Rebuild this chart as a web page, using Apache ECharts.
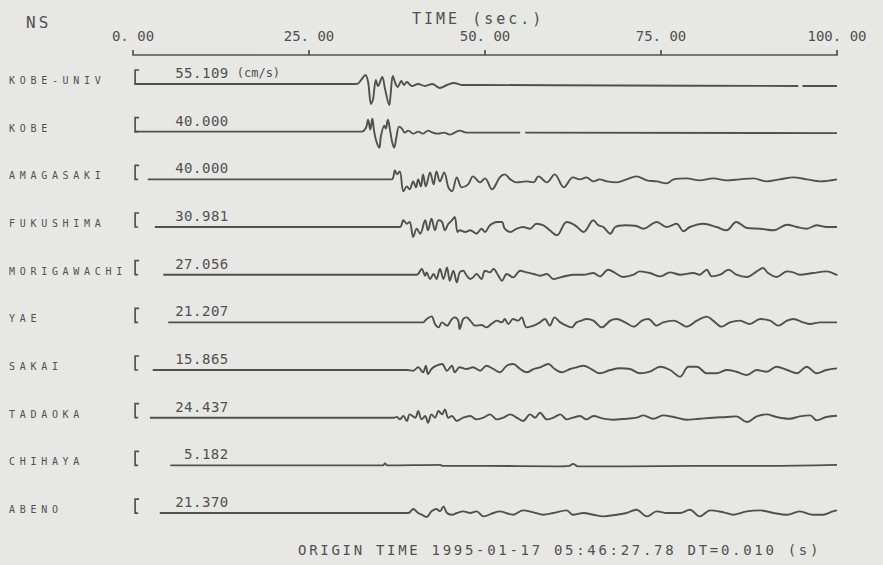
<!DOCTYPE html>
<html><head><meta charset="utf-8">
<script src="https://cdn.jsdelivr.net/npm/echarts@6/dist/echarts.min.js"></script>
<style>html,body{margin:0;padding:0;background:#e7e7e4}#chart{width:883px;height:565px}</style>
</head><body><div id="chart"></div>
<script>
// ---- data (time in s, deflection in trace units, up = +) ----
const STATIONS = ['KOBE-UNIV','KOBE','AMAGASAKI','FUKUSHIMA','MORIGAWACHI','YAE','SAKAI','TADAOKA','CHIHAYA','ABENO'];
const AMPLITUDES = ['55.109','40.000','40.000','30.981','27.056','21.207','15.865','24.437','5.182','21.370'];
const UNIT_LABEL = '(cm/s)';
const TICK_LABELS = ['0. 00','25. 00','50. 00','75. 00','100. 00'];
const COMPONENT = 'NS';
const AXIS_TITLE = 'TIME (sec.)';
const FOOTER = 'ORIGIN TIME 1995-01-17 05:46:27.78 DT=0.010 (s)';

const KOBE_UNIV = [[0.2,0],[31.8,0],[32.5,5],[33.0,9],[33.4,2],[33.8,-20],[34.1,-15],[34.5,4],[34.8,-2],[35.4,7],[35.8,-5],[36.4,-21],[36.6,-10],[36.9,8],[37.3,0],[37.6,-3],[38.1,3],[38.5,-1],[38.9,2],[39.6,-2],[40.5,0],[41.5,-2],[42.5,0],[43.6,-4],[44.6,-1],[45.6,1],[46.7,-1],[49.3,-1],[70.0,-1.5],[94.5,-2],[94.8,null],[95.1,-2],[100,-2]];
const KOBE = [[0.2,0],[32.5,0],[33.1,4],[33.4,12],[33.7,2],[34.0,13],[34.2,3],[34.5,-8],[35.0,-16],[35.2,-5],[35.7,6],[35.9,3],[36.2,12],[36.5,2],[36.8,-10],[37.1,-16],[37.4,-6],[37.8,5],[38.2,3],[38.6,-1],[39.1,1],[39.8,-2],[40.5,0],[41.2,-2],[41.9,1],[42.6,-1],[43.3,-2],[44.2,-1],[45.0,-3],[46.4,1],[47.4,-1],[49.3,-1],[55.0,-1],[55.3,null],[55.7,-1],[100,-1.5]];
const AMAGASAKI = [[2.1,0],[36.7,0],[37.2,9],[37.5,5],[37.9,8],[38.4,-12],[38.9,-7],[39.3,-10],[39.8,-2],[40.2,-8],[40.5,0],[40.9,-7],[41.2,5],[41.6,-7],[42.2,7],[42.7,-5],[43.1,8],[43.6,-2],[44.2,7],[44.8,-8],[45.3,-12],[46.0,2],[46.7,-8],[47.6,-5],[48.3,3],[49.3,-3],[50.0,1],[51.0,-10],[52.1,2],[52.8,5],[53.6,0],[54.5,-3],[55.9,-2],[56.9,-3],[57.6,3],[58.8,-3],[59.9,5],[61.2,-8],[62.5,2],[63.5,0],[64.4,2],[65.4,-2],[66.3,0],[67.3,-2],[68.7,-3],[70.1,0],[71.5,3],[73.0,-1],[74.4,-2],[75.8,-4],[76.8,0],[78.6,1],[80.5,-1],[82.4,1],[84.3,-1],[86.2,0],[88.1,1],[90.0,-2],[91.9,0],[93.8,2],[95.7,0],[97.6,-2],[100,0]];
const FUKUSHIMA = [[3.1,0],[37.9,0],[38.4,6.7],[38.9,3.3],[39.3,5],[39.8,-10],[40.3,-1.7],[40.8,-6.7],[41.5,6.7],[41.9,-3.3],[42.4,8.3],[42.9,-3.3],[43.4,6.7],[43.9,5],[44.3,-3.3],[44.8,3.3],[45.3,6.7],[45.7,10],[46.1,-5],[46.4,-3.3],[47.2,-5],[47.9,-3.3],[48.8,-6.7],[49.5,-1.7],[50.0,-5],[50.7,1.7],[51.7,5],[52.4,5],[52.8,-1.7],[53.6,-5],[54.5,-1.7],[55.4,0],[56.4,-1.7],[57.3,3.3],[58.3,1.7],[59.2,-3.3],[60.2,-8.3],[61.6,5],[62.8,1.7],[64.0,-5],[65.4,6.7],[66.1,1.7],[66.8,0],[67.8,-6.7],[68.5,0],[69.9,1.7],[71.5,1],[72.5,-1.7],[74.4,5],[75.8,0],[77.2,3.3],[78.2,-4.3],[79.1,0],[81.0,3.3],[82.9,0],[84.3,-3.3],[85.7,5],[87.2,-1],[89.1,-1.7],[91.0,-3.3],[92.9,2.3],[94.3,0],[95.7,-1.7],[97.1,1.7],[98.5,0],[100,0]];
const MORIGAWACHI = [[4.3,0],[40.3,0],[41.0,5.7],[41.5,-1],[41.7,2.3],[42.2,-4.3],[42.7,0.7],[43.1,-4.3],[43.6,5.7],[44.1,-4.3],[44.6,7.3],[45.0,-6],[45.5,4],[46.0,-7.7],[46.4,2.3],[46.9,4],[47.4,-1],[47.9,-4.3],[48.3,-2.7],[48.8,0.7],[49.5,-4.3],[50.0,4],[50.7,2.3],[51.2,5.7],[51.9,-1],[52.4,-6],[53.1,0.7],[54.0,-2.7],[55.0,4],[55.9,2.3],[56.9,0.7],[57.8,-1],[58.8,0.7],[59.7,-4.3],[60.7,-2.7],[62.5,0],[64.0,0],[65.4,1.7],[66.3,-1.7],[67.5,5],[68.5,1.7],[69.6,-2.3],[71.1,0],[72.0,3.3],[73.4,1.7],[74.9,-1.7],[76.3,2.3],[77.7,0],[79.6,1.7],[80.5,0],[81.5,5],[82.2,-1.7],[83.4,0],[84.6,5],[85.7,0],[87.2,-2.3],[88.6,3.3],[89.5,6.7],[90.2,1.7],[91.4,-2.3],[92.9,3.3],[93.8,2.3],[94.7,0],[96.6,1.7],[98.5,3.3],[99.9,0],[100,-1]];
const YAE = [[5.0,0],[41.2,0],[41.7,3.3],[42.4,6],[42.9,-1.7],[43.4,-5],[43.9,0],[44.6,-3.3],[45.3,3.3],[45.7,5],[46.2,1.7],[46.4,-6.7],[46.9,3.3],[47.4,5],[47.9,1.7],[48.6,-3.3],[49.5,-2.7],[50.2,-5],[50.9,-1.7],[51.7,1.7],[52.4,0],[52.8,3.3],[53.3,-1.7],[54.0,3.3],[54.7,1.7],[55.2,5],[55.9,-5],[56.9,-3.3],[57.8,0],[58.5,3.3],[59.2,-3.3],[59.9,5],[60.7,0],[61.6,-3.3],[62.3,-5],[63.0,0],[63.7,1.7],[64.4,3.3],[65.4,1.7],[66.6,-5],[67.8,1.7],[68.7,3.3],[69.9,0],[71.1,-4.3],[72.3,1.7],[73.2,3.3],[74.4,-3.3],[75.3,0],[76.8,1.7],[77.9,-1.7],[78.6,-4.3],[80.1,1.7],[81.5,5.7],[82.4,1.7],[83.6,-4.3],[84.8,0],[86.2,1.7],[87.6,-1.7],[89.1,3.3],[90.5,1.7],[91.7,-3.3],[92.9,1.7],[93.8,3.3],[95.2,0],[96.2,-1.7],[97.6,0],[100,0]];
const SAKAI = [[2.8,0],[38.9,0],[39.8,-0.7],[40.5,2.7],[41.2,-2.3],[41.6,4.3],[41.9,-4],[42.4,1],[43.1,4.3],[43.9,6],[44.6,-0.7],[45.3,4.3],[45.7,-2.3],[46.4,2.7],[47.4,1],[48.3,2.7],[49.3,-0.7],[50.2,4.3],[51.2,1],[52.1,-2.3],[53.1,4.3],[54.0,6],[55.0,1],[55.9,-2.3],[56.9,1],[57.8,2.7],[59.0,6],[59.9,1],[60.9,-2.3],[62.1,1],[63.0,2.7],[64.0,4.3],[65.1,1],[66.3,-3.3],[67.8,0],[69.2,1.7],[70.6,1],[72.0,-3.3],[73.4,-1.7],[74.9,3.3],[76.3,0],[77.7,-6.7],[78.9,3.3],[80.1,3.3],[81.5,-3.3],[82.9,-3.3],[84.3,0],[85.7,-1.7],[87.2,-5],[88.6,0],[90.0,-1.7],[91.4,3.3],[92.9,0],[94.3,-3.3],[95.7,3.3],[97.1,-3.3],[98.5,0],[100,1.7]];
const TADAOKA = [[2.4,0],[37.0,0],[37.5,0.7],[37.9,-1.7],[38.4,1.7],[38.9,-3.3],[39.3,3.3],[40.1,0],[40.5,6.7],[41.0,-1.7],[41.5,1.7],[41.9,-5],[42.4,3.3],[42.9,0],[43.4,6.7],[43.9,3.3],[44.3,8.3],[44.8,0],[45.3,1.7],[46.0,-3.3],[46.9,0],[47.9,1.7],[48.8,-1.7],[49.8,0],[50.7,3.3],[51.7,-1.7],[52.6,0],[53.6,3.3],[54.5,0],[55.4,-3.3],[56.4,3.3],[57.1,0],[57.8,5],[58.8,-1.7],[59.7,0],[60.7,3.3],[61.6,-1.7],[62.5,0],[63.5,1.7],[64.4,-1.7],[65.4,1.7],[66.8,-1],[68.2,-2],[70.1,-1],[71.5,0],[72.5,2.3],[73.9,-1],[75.3,2.3],[76.8,0.7],[78.6,-2],[80.5,-1],[82.4,0],[84.3,0.7],[85.7,1.3],[87.2,-4.3],[88.6,1.3],[90.0,3.3],[91.4,0.7],[93.3,-1],[94.7,1.3],[96.2,2.3],[97.1,-2.7],[98.5,0.7],[100,2]];
const CHIHAYA = [[5.3,0],[35.5,0],[35.8,2],[36.1,0],[43.6,0.5],[44.0,-0.5],[50,-0.5],[60,-1],[62.0,-0.5],[62.5,1.5],[63.2,-1],[70,-1],[80,-0.5],[90,-0.5],[100,0.5]];
const ABENO = [[3.8,0],[39.1,0],[39.8,4],[40.5,0],[41.0,-1.7],[41.7,-4],[42.4,1.7],[43.1,4],[43.6,1.7],[44.1,6.7],[44.6,0],[45.3,-1.7],[46.0,0],[46.9,1.7],[47.9,0],[48.8,1.7],[49.8,-3.3],[51.2,0],[52.1,1.7],[54.0,-1.7],[55.4,2.7],[56.9,0.7],[58.3,-1.7],[59.7,0],[61.6,2.7],[62.5,-1.7],[64.0,0],[65.4,-1.7],[66.8,-3.3],[68.7,-1.7],[70.1,0],[71.5,3.3],[73.0,-3.3],[74.4,1.7],[75.8,0],[77.7,0],[79.1,3.3],[80.5,-3.3],[82.0,2.7],[83.9,0.7],[85.3,-1.7],[87.2,1.7],[89.1,2.7],[91.0,0],[92.9,-1.7],[94.7,1.7],[96.6,-1.7],[98.0,-1.7],[99.4,1.7],[100,2.7]];

const TRACES = [KOBE_UNIV, KOBE, AMAGASAKI, FUKUSHIMA, MORIGAWACHI, YAE, SAKAI, TADAOKA, CHIHAYA, ABENO];

// ---- layout / style ----
const FONT = '"DejaVu Sans Mono", monospace';
const INK = '#505050';
const FIRST_ROW = 29, ROW_GAP = 47.67;
const rowBase = i => FIRST_ROW + i * ROW_GAP;

const series = TRACES.map((pts, i) => ({
  type: 'line', name: STATIONS[i], symbol: 'none', showSymbol: false, smooth: 0.35,
  connectNulls: false, silent: true, animation: false,
  lineStyle: { color: INK, width: 1.9 },
  data: pts.map(([t, d]) => [t, d === null ? '-' : rowBase(i) - d])
}));

series.push({
  type: 'custom', silent: true, animation: false, clip: false,
  data: STATIONS.map((s, i) => [0, rowBase(i)]),
  renderItem(params, api) {
    const i = params.dataIndex;
    const p = api.coord([0.3, api.value(1)]);
    const x = p[0], y = p[1];
    const lab = api.coord([13.6, api.value(1)]);
    const children = [
      { type: 'polyline', shape: { points: [[x + 4, y - 14], [x, y - 14], [x, y], [x + 3, y]] },
        style: { stroke: INK, lineWidth: 1.7, fill: 'none' } },
      { type: 'text', x: lab[0], y: y - 11,
        style: { text: AMPLITUDES[i], font: '14px ' + FONT, fill: INK, align: 'right', verticalAlign: 'middle' } },
      { type: 'text', x: 9, y: y - 3.5,
        style: { text: STATIONS[i], font: '10px ' + FONT, fill: INK, align: 'left', verticalAlign: 'middle' } }
    ];
    if (i === 0) {
      children.push({ type: 'text', x: lab[0] + 8, y: y - 11,
        style: { text: UNIT_LABEL, font: '12px ' + FONT, fill: INK, align: 'left', verticalAlign: 'middle' } });
    }
    return { type: 'group', children };
  }
});

const option = {
  backgroundColor: '#e7e7e4',
  animation: false,
  title: [
    { text: COMPONENT, left: 26, top: 14, padding: 0, textStyle: { fontFamily: FONT, fontSize: 16, fontWeight: 'normal', color: INK } },
    { text: AXIS_TITLE, left: 412, top: 11, padding: 0, textStyle: { fontFamily: FONT, fontSize: 15, fontWeight: 'normal', color: INK } },
    { text: FOOTER, left: 298, top: 543, padding: 0, textStyle: { fontFamily: FONT, fontSize: 14, fontWeight: 'normal', color: INK } }
  ],
  grid: { left: 133, right: 46, top: 55, bottom: 38, containLabel: false },
  xAxis: {
    type: 'value', position: 'top', min: 0, max: 100, interval: 25,
    axisLine: { show: true, lineStyle: { color: INK, width: 1.7 } },
    axisTick: { show: true, inside: false, length: 5, lineStyle: { color: INK, width: 1.7 } },
    splitLine: { show: false },
    axisLabel: { margin: 12, fontFamily: FONT, fontSize: 14, color: INK,
      formatter: (v) => TICK_LABELS[Math.round(v / 25)] }
  },
  yAxis: { type: 'value', inverse: true, min: 0, max: 472, show: false, splitLine: { show: false } },
  series
};

const chart = echarts.init(document.getElementById('chart'), null, { renderer: 'svg' });
const SPACING = new Map();
STATIONS.forEach(s => SPACING.set(s, 4.7));
AMPLITUDES.forEach(a => SPACING.set(a, 0.5));
SPACING.set(COMPONENT, 3);
SPACING.set(AXIS_TITLE, 3);
SPACING.set(FOOTER, 2.7);
function applySpacing() {
  document.querySelectorAll('#chart svg text').forEach(el => {
    const s = SPACING.get(el.textContent);
    if (s) el.setAttribute('letter-spacing', s + 'px');
  });
}
chart.on('finished', applySpacing);
chart.setOption(option);
applySpacing();
setTimeout(applySpacing, 50);
</script></body></html>
